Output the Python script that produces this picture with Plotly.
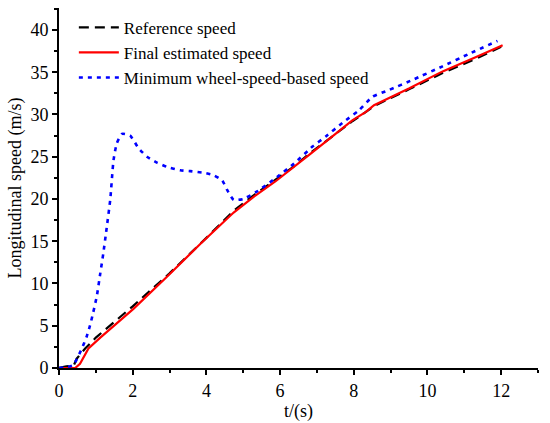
import plotly.graph_objects as go

# reference speed (black dashed)
t_ref = [0, 0.2, 0.4, 0.48, 0.71, 1.0, 2.0, 3.0, 4.0, 4.74, 5.3, 5.88, 6.33, 6.78,
         7.42, 7.96, 8.33, 8.55, 9.51, 10.41, 11.32, 12.0]
v_ref = [0, 0.2, 0.3, 1.1, 2.3, 3.6, 7.3, 11.2, 15.4, 18.6, 20.5, 22.3, 23.7, 25.3,
         27.4, 29.2, 30.3, 31.0, 33.0, 34.9, 36.6, 38.0]

# final estimated speed (red solid)
t_est = [0, 0.2, 0.44, 0.57, 0.71, 0.8, 1.12, 2.02, 2.93, 3.84, 4.74, 5.3, 5.88, 6.33,
         6.78, 7.42, 7.96, 8.33, 8.55, 9.51, 10.41, 11.32, 12.04]
v_est = [0, 0, 0, 0.5, 1.5, 2.3, 3.6, 7.0, 10.8, 14.7, 18.4, 20.3, 22.1, 23.6,
         25.2, 27.4, 29.3, 30.3, 31.1, 33.1, 35.1, 36.8, 38.2]

# minimum wheel-speed-based speed (blue dotted)
t_whl = [0, 0.25, 0.39, 0.62, 0.75, 0.84, 0.93, 1.03, 1.12, 1.2, 1.28, 1.39, 1.48,
         1.57, 1.71, 1.93, 2.16, 2.39, 2.66, 2.93, 3.29, 3.56, 3.93, 4.2, 4.43, 4.56,
         4.74, 5.0, 5.38, 5.92, 6.38, 6.88, 7.24, 7.69, 8.14, 8.51, 8.96, 9.6, 10.41,
         11.14, 11.9]
v_whl = [0, 0.15, 0.35, 2.3, 3.7, 5.0, 6.6, 8.6, 11.2, 13.5, 16.1, 19.9, 24.6,
         26.6, 27.7, 27.5, 26.0, 25.0, 24.3, 23.8, 23.4, 23.3, 23.1, 22.8, 22.2, 21.1,
         19.9, 20.0, 20.9, 22.6, 24.2, 26.2, 27.4, 29.0, 30.5, 32.1, 32.9, 34.1, 35.7,
         37.2, 38.7]

font = "'Liberation Serif', 'Times New Roman', 'DejaVu Serif', serif"

fig = go.Figure()
fig.add_trace(go.Scatter(x=t_ref, y=v_ref, mode="lines", name="Reference speed",
                         line=dict(color="black", width=2.2, dash="10px,6px")))
fig.add_trace(go.Scatter(x=t_est, y=v_est, mode="lines", name="Final estimated speed",
                         line=dict(color="#ff0000", width=2.2)))
fig.add_trace(go.Scatter(x=t_whl, y=v_whl, mode="lines",
                         name="Minimum wheel-speed-based speed",
                         line=dict(color="#0000ff", width=2.6, dash="4px,5px",
                                   shape="spline", smoothing=0.5)))

axis_common = dict(
    showline=True, linecolor="black", linewidth=2, showgrid=False, zeroline=False,
    ticks="outside", ticklen=5, tickwidth=2, tickcolor="black", automargin=False,
    tickfont=dict(family=font, size=18, color="black"),
)

fig.update_xaxes(
    range=[0, 13], dtick=2, tick0=0,
    minor=dict(dtick=1, ticks="outside", ticklen=3, tickwidth=2, tickcolor="black"),
    title=dict(text="t/(s)", font=dict(family=font, size=18, color="black"), standoff=0),
    **axis_common,
)
fig.update_yaxes(
    range=[0, 42.6], dtick=5, tick0=0,
    minor=dict(dtick=2.5, ticks="outside", ticklen=3, tickwidth=2, tickcolor="black"),
    title=dict(text="Longitudinal speed (m/s)",
               font=dict(family=font, size=18, color="black"), standoff=4),
    **axis_common,
)

fig.update_layout(
    width=550, height=423,
    margin=dict(l=59, r=12, t=8, b=55),
    plot_bgcolor="white", paper_bgcolor="white",
    font=dict(family=font, color="black"),
    legend=dict(x=0.031, y=0.995, xanchor="left", yanchor="top",
                bgcolor="rgba(0,0,0,0)", font=dict(family=font, size=17),
                itemwidth=40, tracegroupgap=0),
)

# drop the default page margin so the figure sits at the window's corner
fig.write_html("out.html", config={"displayModeBar": False},
               post_script="document.body.style.margin='0';")
